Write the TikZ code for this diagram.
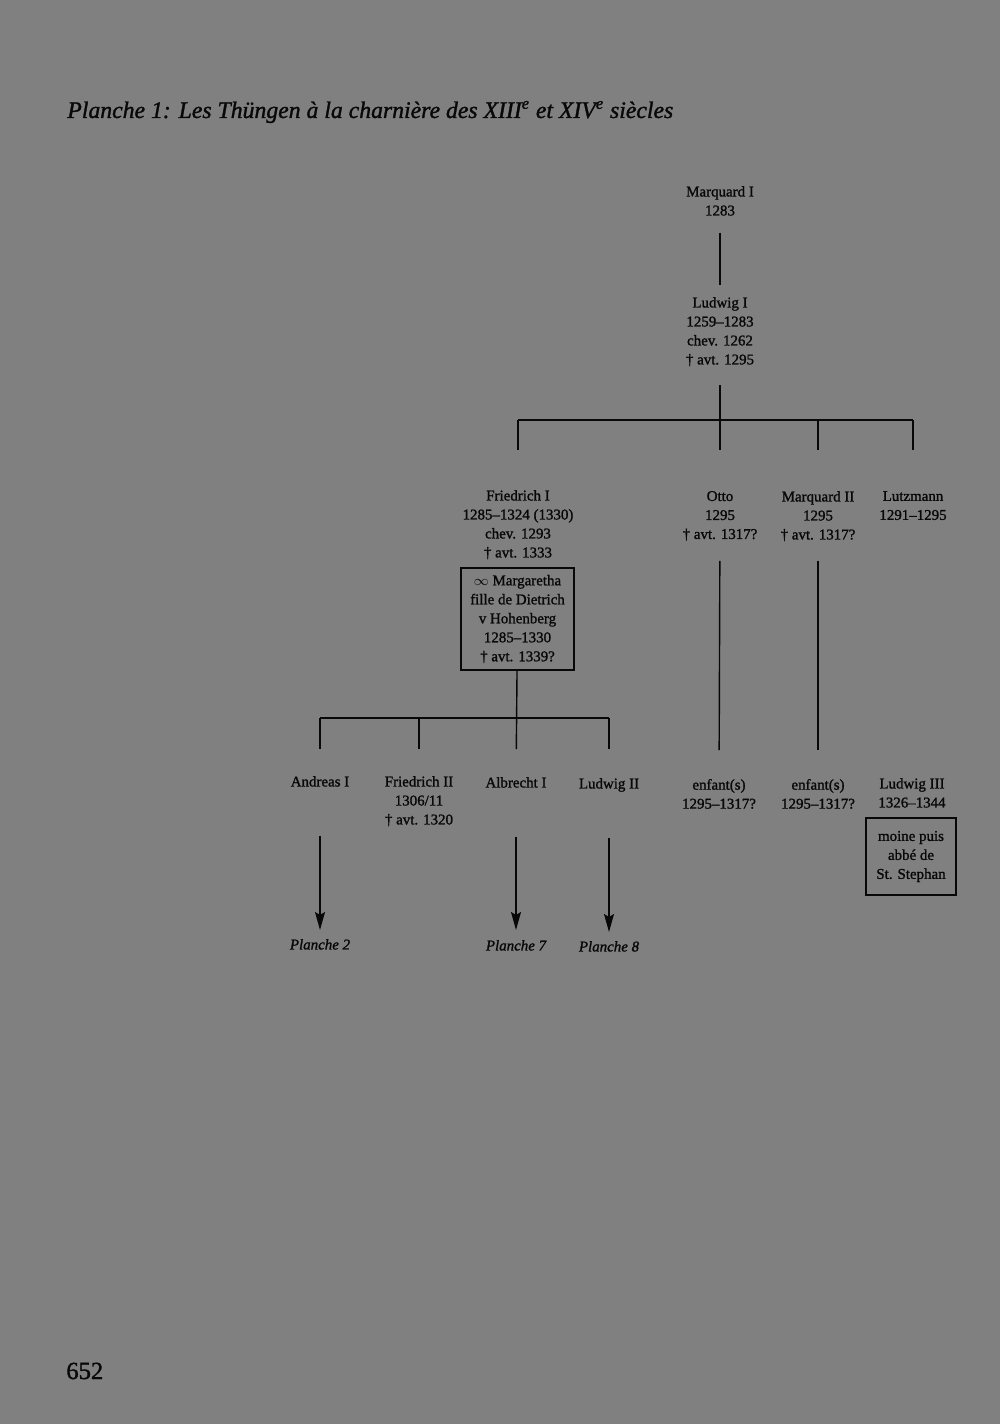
\documentclass[tikz,border=0pt]{standalone}
\usepackage{fontspec}
\setmainfont{Liberation Serif}[BoldFont=Liberation Serif, BoldFeatures={FakeBold=1.3},
  BoldItalicFont=Liberation Serif Italic, BoldItalicFeatures={FakeBold=1.3}]
\usetikzlibrary{arrows.meta,positioning}
\definecolor{pagegray}{HTML}{808080}
\definecolor{ink}{HTML}{080808}

\begin{document}
\begin{tikzpicture}[
  x=0.2mm, y=-0.2mm,
  pers/.style={anchor=north, inner sep=1pt, align=center, text=ink,
               font=\fontsize{8.5}{10.8}\selectfont\bfseries},
  note/.style={draw=ink, line width=0.6pt, inner sep=1pt, align=center, text=ink,
               font=\fontsize{8.5}{10.8}\selectfont\bfseries},
  plref/.style={anchor=north, inner sep=1pt, text=ink,
                font=\fontsize{8.5}{10.8}\selectfont\bfseries\itshape},
  link/.style={draw=ink, line width=0.8pt},
  cont/.style={draw=ink, line width=0.8pt, -{Stealth[length=3.6mm, width=2mm, inset=0.6mm]}}]
% page
\fill[pagegray] (0,0) rectangle (1000,1424);
\useasboundingbox (0,0) rectangle (1000,1424);
\node[anchor=base west, inner sep=0pt, text=ink, font=\fontsize{13.5}{16}\selectfont\bfseries\itshape] (title) at (67,118)
  {Planche 1: Les Thüngen à la charnière des XIII\textsuperscript{e} et XIV\textsuperscript{e} siècles};
\node[anchor=base west, inner sep=0pt, text=ink, font=\fontsize{14}{16}\selectfont\bfseries] (folio) at (66,1379) {652};
% --- generation 1 and 2 ---
\node[pers] (m1) at (720,184) {Marquard I\\1283};
\node[pers] (l1) at (720,295) {Ludwig I\\1259–1283\\chev. 1262\\† avt. 1295};
\draw[link, shorten <=3mm, shorten >=2mm] (m1) -- (l1);
% --- children of Ludwig I ---
\node[pers] (f1) at (518,488) {Friedrich I\\1285–1324 (1330)\\chev. 1293\\† avt. 1333};
\node[pers] (o1) at (720,489) {Otto\\1295\\† avt. 1317?};
\node[pers] (m2) at (818,489) {Marquard II\\1295\\† avt. 1317?};
\node[pers] (lz) at (913,489) {Lutzmann\\1291–1295};
\coordinate (bar1) at (720,420);
\coordinate (b1w) at (f1 |- bar1);
\coordinate (b1m) at (m2 |- bar1);
\coordinate (b1e) at (lz |- bar1);
\draw[link] (b1w) -- (b1e);
\draw[link, shorten <=3.4mm, shorten >=7.8mm] (l1) -- (o1);
\draw[link, shorten >=7.6mm] (b1w) -- (f1);
\draw[link, shorten >=7.8mm] (b1m) -- (m2);
\draw[link, shorten >=7.8mm] (b1e) -- (lz);
% wife of Friedrich I
\node[note, minimum width=22.6mm, minimum height=20.4mm] (mg) at (517.5,619)
  {$\infty$ Margaretha\\fille de Dietrich\\v Hohenberg\\1285–1330\\† avt. 1339?};
% --- grandchildren ---
\node[pers] (an) at (320,774) {Andreas I};
\node[pers] (f2) at (419,774) {Friedrich II\\1306/11\\† avt. 1320};
\node[pers] (ab) at (516,775) {Albrecht I};
\node[pers] (l2) at (609,776) {Ludwig II};
\node[pers] (e1) at (719,777) {enfant(s)\\1295–1317?};
\node[pers] (e2) at (818,777) {enfant(s)\\1295–1317?};
\node[pers] (l3) at (912,776) {Ludwig III\\1326–1344};
\node[note, minimum width=18mm, minimum height=15.4mm] (ab3) at (911,856.5)
  {moine puis\\abbé de\\St. Stephan};
\coordinate (bar2) at (516,718);
\coordinate (b2a) at (an |- bar2);
\coordinate (b2f) at (f2 |- bar2);
\coordinate (b2l) at (l2 |- bar2);
\draw[link] (b2a) -- (b2l);
\draw[link, shorten >=5.2mm] (mg) -- (ab);
\draw[link, shorten >=5mm] (b2a) -- (an);
\draw[link, shorten >=5mm] (b2f) -- (f2);
\draw[link, shorten >=5.4mm] (b2l) -- (l2);
\draw[link, shorten <=3.6mm, shorten >=5.4mm] (o1) -- (e1);
\draw[link, shorten <=3.6mm, shorten >=5.4mm] (m2) -- (e2);
% --- continued on other plates ---
\node[plref] (p2) at (320,937) {Planche 2};
\node[plref] (p7) at (516,938) {Planche 7};
\node[plref] (p8) at (609,939) {Planche 8};
\draw[cont, shorten <=9.4mm, shorten >=1.4mm] (an) -- (p2);
\draw[cont, shorten <=9.4mm, shorten >=1.6mm] (ab) -- (p7);
\draw[cont, shorten <=8.8mm, shorten >=1.4mm] (l2) -- (p8);
\end{tikzpicture}
\end{document}
